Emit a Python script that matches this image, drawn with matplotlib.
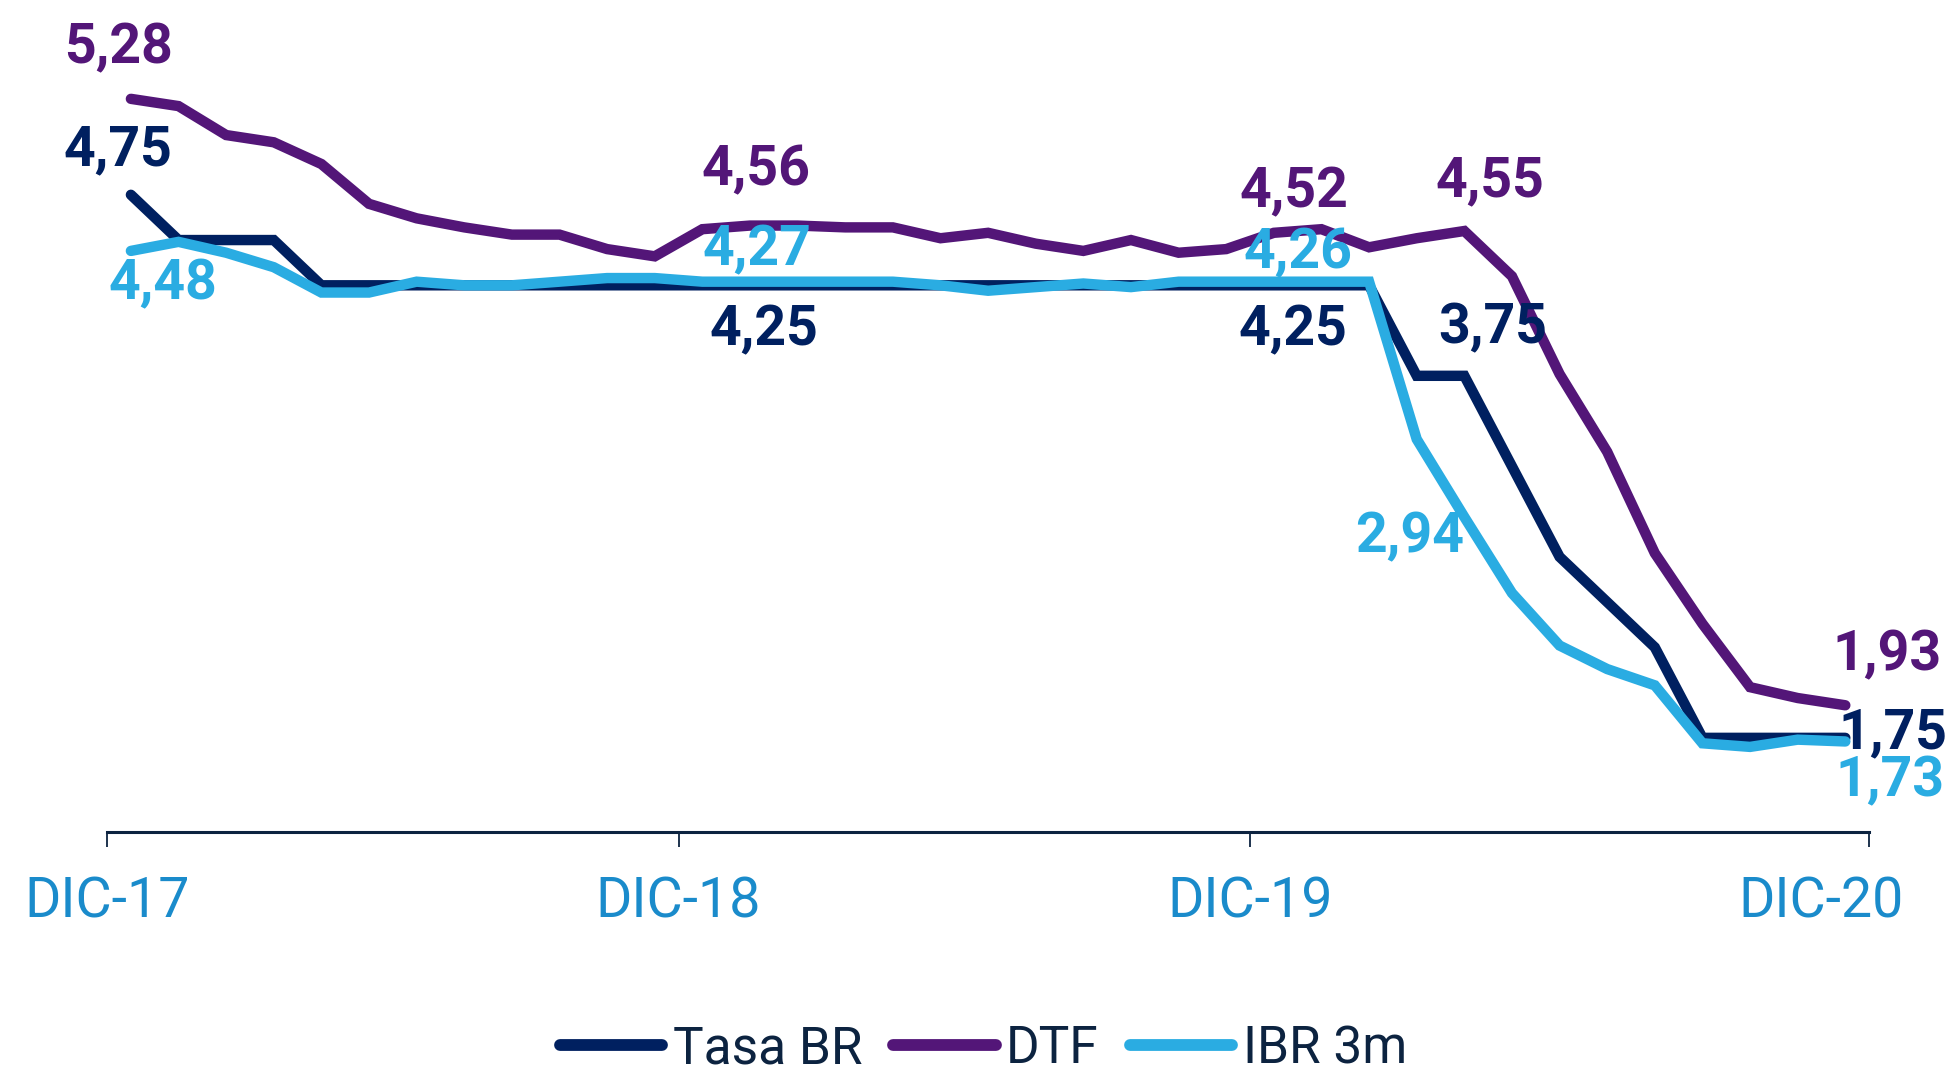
import matplotlib
matplotlib.use("Agg")
import matplotlib.pyplot as plt
from matplotlib.lines import Line2D

plt.rcParams['font.family'] = ['Roboto', 'DejaVu Sans']

# ---- data (monthly, Dec-2017 .. Dec-2020) ----
tasa_br = [4.75, 4.50, 4.50, 4.50, 4.25, 4.25, 4.25, 4.25, 4.25, 4.25,
           4.25, 4.25, 4.25, 4.25, 4.25, 4.25, 4.25, 4.25, 4.25, 4.25,
           4.25, 4.25, 4.25, 4.25, 4.25, 4.25, 4.25, 3.75, 3.75, 3.25,
           2.75, 2.50, 2.25, 1.75, 1.75, 1.75, 1.75]
dtf = [5.28, 5.24, 5.08, 5.04, 4.92, 4.70, 4.62, 4.57, 4.53, 4.53,
       4.45, 4.41, 4.56, 4.58, 4.58, 4.57, 4.57, 4.51, 4.54, 4.48,
       4.44, 4.50, 4.43, 4.45, 4.54, 4.56, 4.46, 4.51, 4.55, 4.30,
       3.76, 3.33, 2.77, 2.38, 2.03, 1.97, 1.93]
ibr_3m = [4.44, 4.49, 4.43, 4.35, 4.21, 4.21, 4.27, 4.25, 4.25, 4.27,
          4.29, 4.29, 4.27, 4.27, 4.27, 4.27, 4.27, 4.25, 4.22, 4.24,
          4.26, 4.24, 4.27, 4.27, 4.27, 4.27, 4.27, 3.40, 2.97, 2.55,
          2.26, 2.13, 2.04, 1.72, 1.70, 1.74, 1.73]
series_names = ["Tasa BR", "DTF", "IBR 3m"]
tick_labels = ["DIC-17", "DIC-18", "DIC-19", "DIC-20"]
tick_label_idx = [-0.5, 11.5, 23.5, 35.5]
tick_mark_idx = [-0.5, 11.5, 23.5, 36.5]

# labelled points: (series, index, text, dx, dy) offsets in pixels
labels = [
    ("dtf", 0, "5,28", -12, 51),
    ("br", 0, "4,75", -13, 44),
    ("ibr", 0, "4,48", 32, -33),
    ("dtf", 13, "4,56", 6, 55),
    ("ibr", 13, "4,27", 7, 31),
    ("br", 13, "4,25", 14, -45),
    ("dtf", 25, "4,52", -27, 37),
    ("ibr", 25, "4,26", -23, 28),
    ("br", 25, "4,25", -28, -45),
    ("dtf", 28, "4,55", 26, 50),
    ("br", 28, "3,75", 28, 47),
    ("ibr", 28, "2,94", -55, -20),
    ("dtf", 36, "1,93", 42, 50),
    ("br", 36, "1,75", 48, 5),
    ("ibr", 36, "1,73", 45, -40),
]

C_BR = "#002060"
C_DTF = "#531678"
C_IBR = "#2AACE2"
C_TICK = "#1A8BCB"
C_AXIS = "#0C2340"

fig = plt.figure(figsize=(19.47, 10.77), dpi=100)
ax = fig.add_axes([0.055, 0.2275, 0.905, 0.7345])

x = list(range(len(tasa_br)))
data = {"br": tasa_br, "dtf": dtf, "ibr": ibr_3m}
colors = {"br": C_BR, "dtf": C_DTF, "ibr": C_IBR}
lw = 7.5
ax.plot(x, tasa_br, color=C_BR, lw=lw, solid_capstyle='round', solid_joinstyle='miter', zorder=3)
ax.plot(x, dtf, color=C_DTF, lw=lw, solid_capstyle='round', solid_joinstyle='miter', zorder=2)
ax.plot(x, ibr_3m, color=C_IBR, lw=lw, solid_capstyle='round', solid_joinstyle='miter', zorder=4)

ax.set_xlim(-0.5, 36.5)
ax.set_ylim(1.23, 5.6)

for key, i, txt, dx, dy in labels:
    ax.annotate(txt, xy=(i, data[key][i]), xytext=(dx, dy), textcoords='offset pixels',
                ha='center', va='center', fontsize=40, fontweight='bold',
                color=colors[key], zorder=5, annotation_clip=False)

for s in ['top', 'right', 'left']:
    ax.spines[s].set_visible(False)
ax.spines['bottom'].set_color(C_AXIS)
ax.spines['bottom'].set_linewidth(2.2)
ax.set_yticks([])

ax.xaxis.remove_overlapping_locs = False
ax.set_xticks(tick_mark_idx)
ax.set_xticklabels([])
ax.tick_params(axis='x', which='major', length=10.5, width=1.3, color=C_AXIS, direction='out')
ax.set_xticks(tick_label_idx, minor=True)
ax.set_xticklabels(tick_labels, minor=True)
ax.tick_params(axis='x', which='minor', length=0, pad=31, labelsize=40, labelcolor=C_TICK)

handles = [Line2D([0], [0], color=c, lw=8.5, solid_capstyle='round') for c in (C_BR, C_DTF, C_IBR)]
leg = fig.legend(handles, series_names, loc='lower center', bbox_to_anchor=(0.505, 0.0),
                 ncol=3, frameon=False, fontsize=37, handlelength=2.0, handletextpad=0.2,
                 columnspacing=0.6, borderaxespad=0, borderpad=0.05)
for t in leg.get_texts():
    t.set_color(C_AXIS)

fig.savefig("out.png", dpi=100)
